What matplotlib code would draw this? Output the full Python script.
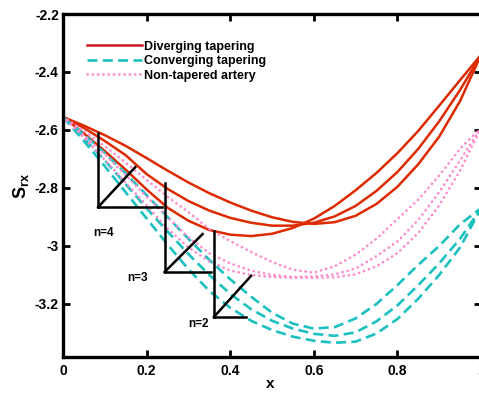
import matplotlib
matplotlib.use("Agg")
import matplotlib.pyplot as plt
from matplotlib.lines import Line2D

plt.rcParams["font.family"] = ["Liberation Sans", "DejaVu Sans"]
plt.rcParams["font.weight"] = "bold"
plt.rcParams["mathtext.fontset"] = "custom"
plt.rcParams["mathtext.rm"] = "Liberation Sans:bold"
plt.rcParams["mathtext.bf"] = "Liberation Sans:bold"

# x grid shared by all curves
x = [0.00, 0.05, 0.10, 0.15, 0.20, 0.25, 0.30, 0.35, 0.40, 0.45, 0.50,
     0.55, 0.60, 0.65, 0.70, 0.75, 0.80, 0.85, 0.90, 0.95, 1.00]

# diverging tapering (solid red), three n values
div_a = [-2.555, -2.585, -2.618, -2.655, -2.697, -2.740, -2.781, -2.818, -2.850, -2.878, -2.901,
         -2.917, -2.924, -2.918, -2.896, -2.855, -2.796, -2.718, -2.623, -2.500, -2.341]
div_b = [-2.555, -2.593, -2.638, -2.687, -2.752, -2.803, -2.845, -2.878, -2.903, -2.920, -2.930,
         -2.930, -2.920, -2.898, -2.862, -2.810, -2.745, -2.665, -2.570, -2.462, -2.341]
div_c = [-2.555, -2.612, -2.673, -2.737, -2.805, -2.868, -2.913, -2.945, -2.961, -2.966, -2.958,
         -2.938, -2.906, -2.862, -2.808, -2.748, -2.680, -2.603, -2.516, -2.428, -2.341]

# converging tapering (dashed cyan)
conv_a = [-2.555, -2.615, -2.680, -2.750, -2.825, -2.900, -2.975, -3.048, -3.115, -3.175, -3.230,
          -3.268, -3.285, -3.280, -3.250, -3.200, -3.135, -3.065, -3.000, -2.925, -2.870]
conv_b = [-2.555, -2.628, -2.705, -2.787, -2.870, -2.950, -3.028, -3.100, -3.165, -3.218, -3.258,
          -3.285, -3.303, -3.310, -3.298, -3.260, -3.205, -3.135, -3.060, -2.975, -2.870]
conv_c = [-2.555, -2.638, -2.725, -2.815, -2.905, -2.995, -3.080, -3.155, -3.213, -3.258, -3.290,
          -3.313, -3.327, -3.334, -3.330, -3.302, -3.252, -3.182, -3.100, -3.005, -2.870]

# non-tapered artery (dotted pink)
non_a = [-2.555, -2.603, -2.656, -2.713, -2.772, -2.830, -2.883, -2.942, -2.983, -3.021, -3.055,
         -3.082, -3.092, -3.070, -3.030, -2.975, -2.907, -2.840, -2.757, -2.665, -2.592]
non_b = [-2.555, -2.618, -2.684, -2.756, -2.830, -2.900, -2.970, -3.025, -3.060, -3.085, -3.100,
         -3.107, -3.105, -3.098, -3.078, -3.035, -2.985, -2.910, -2.815, -2.705, -2.592]
non_c = [-2.555, -2.627, -2.703, -2.782, -2.860, -2.940, -3.005, -3.053, -3.085, -3.100, -3.107,
         -3.110, -3.110, -3.108, -3.098, -3.070, -3.025, -2.955, -2.860, -2.740, -2.592]

# "n =" marker triangles: corner (x0, y0), top of vertical, end of horizontal, tip of diagonal
tri_labels = ["n=4", "n=3", "n=2"]
tri_x0 = [0.084, 0.243, 0.361]
tri_y0 = [-2.866, -3.090, -3.245]
tri_ytop = [-2.610, -2.783, -2.948]
tri_xend = [0.238, 0.353, 0.4375]
tri_diag_x = [0.173, 0.334, 0.450]
tri_diag_y = [-2.728, -2.959, -3.103]
lab_x = [0.096, 0.178, 0.325]
lab_y = [-2.955, -3.110, -3.269]

red = "#dd2a00"
cyan = "#1cc0c0"
pink = "#ff8ccc"

fig = plt.figure(figsize=(4.79, 3.94), dpi=100)
ax = fig.add_axes([63 / 479, 37 / 394, 418 / 479, 343 / 394])

for ys in [div_a, div_b, div_c]:
    ax.plot(x, ys, color=red, lw=1.8, solid_capstyle="round")
for ys in [conv_a, conv_b, conv_c]:
    ax.plot(x, ys, color=cyan, lw=1.9, dashes=(3.8, 2.0))
for ys in [non_a, non_b, non_c]:
    ax.plot(x, ys, color=pink, lw=1.9, dashes=(0.1, 1.9), dash_capstyle="round")

for i in range(len(tri_labels)):
    ax.plot([tri_x0[i], tri_x0[i]], [tri_ytop[i], tri_y0[i]], color="black", lw=1.8)
    ax.plot([tri_x0[i], tri_xend[i]], [tri_y0[i], tri_y0[i]], color="black", lw=1.8)
    ax.plot([tri_x0[i], tri_diag_x[i]], [tri_y0[i], tri_diag_y[i]], color="black", lw=1.8)
    ax.text(lab_x[i], lab_y[i], tri_labels[i], fontsize=8.5, fontweight="bold",
            ha="center", va="center")

ax.set_xlim(0, 1)
ax.set_ylim(-3.383, -2.2)
ax.set_xticks([0, 0.2, 0.4, 0.6, 0.8, 1.0])
ax.set_xticklabels(["0", "0.2", "0.4", "0.6", "0.8", "1"])
ax.set_yticks([-3.2, -3.0, -2.8, -2.6, -2.4, -2.2])
ax.set_yticklabels(["-3.2", "-3", "-2.8", "-2.6", "-2.4", "-2.2"])
ax.tick_params(direction="in", length=5, width=2, top=True, right=True,
               labelsize=10)
ax.tick_params(axis="x", pad=5)
ax.tick_params(axis="y", pad=3)
for lab in ax.get_xticklabels() + ax.get_yticklabels():
    lab.set_fontweight("bold")
for sp in ax.spines.values():
    sp.set_linewidth(2.4)

ax.set_xlabel("x", fontsize=11, fontweight="bold")
ax.xaxis.set_label_coords(0.495, -0.058)
ax.set_ylabel(r"$\mathbf{S_{rx}}$", fontsize=13)
ax.yaxis.set_label_coords(-0.076, 0.5)

handles = [
    Line2D([], [], color="#cc1a22", lw=1.8),
    Line2D([], [], color=cyan, lw=1.9, dashes=(3.8, 2.0)),
    Line2D([], [], color=pink, lw=1.9, dashes=(0.1, 1.9), dash_capstyle="round"),
]
ax.legend(handles, ["Diverging tapering", "Converging tapering", "Non-tapered artery"],
          loc="upper left", bbox_to_anchor=(0.03, 0.955), frameon=False,
          handlelength=4.4, handletextpad=0.2, labelspacing=0.2,
          prop={"weight": "bold", "size": 9})

fig.savefig("out.png", dpi=100)
